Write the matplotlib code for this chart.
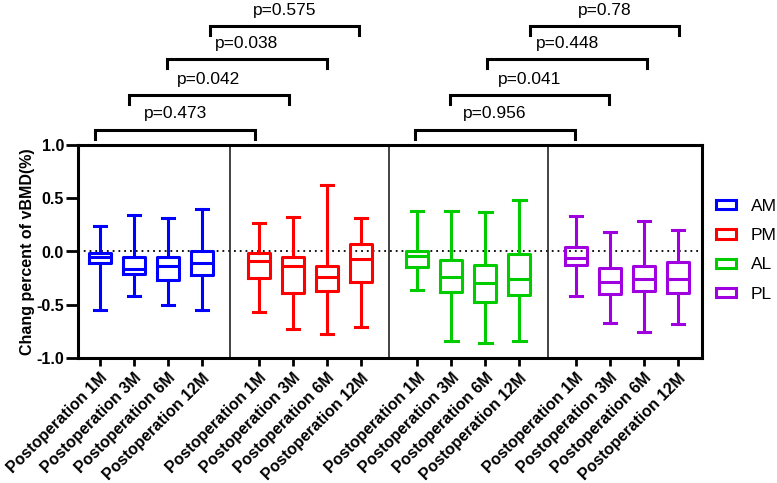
import matplotlib
matplotlib.use("Agg")
import matplotlib.pyplot as plt
from matplotlib.patches import Patch

plt.rcParams['font.family'] = ['Liberation Sans', 'DejaVu Sans']

# ---------------- data ----------------
groups = ['AM', 'PM', 'AL', 'PL']
timepoints = ['Postoperation 1M', 'Postoperation 3M', 'Postoperation 6M', 'Postoperation 12M']
colors = ['#0000FF', '#FF0000', '#00CC00', '#A000E0']

AM_lo  = [-0.55, -0.42, -0.50, -0.55]
AM_q1  = [-0.11, -0.21, -0.27, -0.22]
AM_med = [-0.056, -0.16, -0.135, -0.11]
AM_q3  = [-0.012, -0.05, -0.05, 0.0]
AM_hi  = [0.24, 0.34, 0.31, 0.40]

PM_lo  = [-0.57, -0.73, -0.77, -0.71]
PM_q1  = [-0.25, -0.39, -0.37, -0.29]
PM_med = [-0.09, -0.14, -0.24, -0.07]
PM_q3  = [-0.01, -0.05, -0.135, 0.075]
PM_hi  = [0.27, 0.32, 0.62, 0.31]

AL_lo  = [-0.36, -0.84, -0.855, -0.84]
AL_q1  = [-0.145, -0.38, -0.47, -0.41]
AL_med = [-0.045, -0.24, -0.30, -0.26]
AL_q3  = [0.005, -0.08, -0.13, -0.025]
AL_hi  = [0.38, 0.38, 0.37, 0.48]

PL_lo  = [-0.42, -0.67, -0.76, -0.68]
PL_q1  = [-0.125, -0.40, -0.37, -0.39]
PL_med = [-0.065, -0.29, -0.255, -0.26]
PL_q3  = [0.045, -0.155, -0.135, -0.10]
PL_hi  = [0.33, 0.18, 0.29, 0.20]

series = {
    'AM': (AM_lo, AM_q1, AM_med, AM_q3, AM_hi),
    'PM': (PM_lo, PM_q1, PM_med, PM_q3, PM_hi),
    'AL': (AL_lo, AL_q1, AL_med, AL_q3, AL_hi),
    'PL': (PL_lo, PL_q1, PL_med, PL_q3, PL_hi),
}

p_left = ['p=0.473', 'p=0.042', 'p=0.038', 'p=0.575']
p_right = ['p=0.956', 'p=0.041', 'p=0.448', 'p=0.78']

yticks = [-1.0, -0.5, 0.0, 0.5, 1.0]
ytick_labels = ['-1.0', '-0.5', '0.0', '0.5', '1.0']

# ---------------- layout ----------------
W, H = 777, 483
fig = plt.figure(figsize=(W / 100, H / 100), dpi=100)
ax = fig.add_axes([78 / W, 1 - 358 / H, (702 - 78) / W, (358 - 145) / H])

group_start = 0.65
group_step = 4.665
box_step = 1.0
LW = 2.2

all_pos = []
for g, name in enumerate(groups):
    lo, q1, med, q3, hi = series[name]
    pos = [group_start + g * group_step + i * box_step for i in range(len(timepoints))]
    all_pos += pos
    stats = [dict(whislo=lo[i], q1=q1[i], med=med[i], q3=q3[i], whishi=hi[i], fliers=[])
             for i in range(len(timepoints))]
    c = colors[g]
    ax.bxp(stats, positions=pos, widths=0.65, capwidths=0.36, showfliers=False,
           boxprops=dict(color=c, linewidth=LW),
           medianprops=dict(color=c, linewidth=LW),
           whiskerprops=dict(color=c, linewidth=LW),
           capprops=dict(color=c, linewidth=LW),
           manage_ticks=False)

# separators
for g in range(1, len(groups)):
    xs = group_start + (g - 1) * group_step + 3 * box_step + (group_step - 3 * box_step) / 2
    ax.axvline(xs, color='#222222', linewidth=1.2, zorder=1)

ax.axhline(0, color='black', linestyle=(0, (1, 2.2)), linewidth=1.3, zorder=0)

ax.set_xlim(0, 18.35)
ax.set_ylim(-1.0, 1.0)
ax.set_xticks(all_pos)
ax.set_xticklabels(timepoints * len(groups), rotation=45, ha='right', va='top',
                   rotation_mode='anchor', fontsize=11.5, fontweight='bold')
ax.set_yticks(yticks)
ax.set_yticklabels(ytick_labels, fontsize=11.5, fontweight='bold')
ax.tick_params(axis='y', length=9, width=2.0, pad=1)
ax.tick_params(axis='x', length=6, width=2.0, pad=3)
for s in ax.spines.values():
    s.set_linewidth(2.2)

fig.text(28 / W, 1 - 251.5 / H, 'Chang percent of vBMD(%)', rotation=90,
         ha='center', va='center', fontsize=11.5, fontweight='bold')

# significance brackets
levels = [1.139, 1.467, 1.805, 2.115]
drop = 0.085
left_x = [(0.5, 5.21), (1.5, 6.2), (2.62, 7.32), (3.88, 8.26)]
right_x = [(9.91, 14.62), (10.94, 15.62), (12.03, 16.74), (13.29, 17.68)]
for pairs, labels in ((left_x, p_left), (right_x, p_right)):
    for (x0, x1), lev, lab in zip(pairs, levels, labels):
        ax.plot([x0, x0, x1, x1], [lev - drop, lev, lev, lev - drop], color='black',
                linewidth=2.2, clip_on=False, solid_joinstyle='miter')
        ax.text((x0 + x1) / 2, lev + 0.11, lab, ha='center', va='baseline', fontsize=12.5)

handles = [Patch(facecolor='white', edgecolor=c, linewidth=2.2) for c in colors]
fig.legend(handles, groups, loc='upper left', bbox_to_anchor=(716 / W, 1 - 199 / H),
           frameon=False, fontsize=12.5, handlelength=1.15, handleheight=0.45,
           handletextpad=0.85, labelspacing=0.82, borderpad=0, borderaxespad=0)

fig.savefig('out.png', dpi=100)
